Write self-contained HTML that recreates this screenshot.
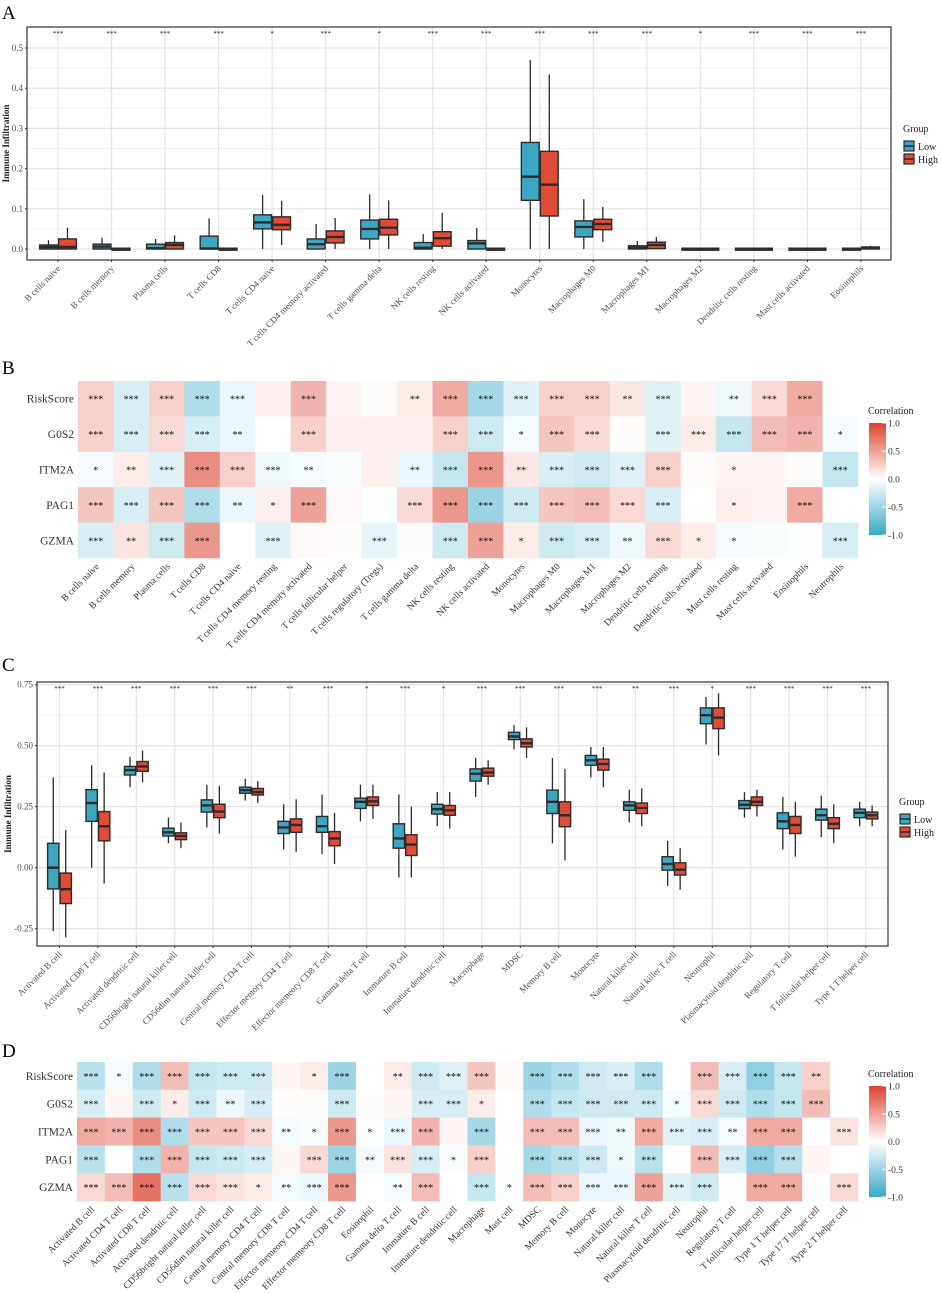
<!DOCTYPE html>
<html><head><meta charset="utf-8">
<style>
html,body{margin:0;padding:0;background:#fff;}
svg{display:block;font-family:"Liberation Serif",serif;}
</style></head>
<body>
<svg id="fig" width="941" height="1294" viewBox="0 0 941 1294" xmlns="http://www.w3.org/2000/svg">
<text x="2" y="19" font-size="19">A</text>
<text x="2" y="374" font-size="19">B</text>
<text x="2" y="671" font-size="19">C</text>
<text x="2" y="1057" font-size="19">D</text>
</svg>
<script>
// ---------- Panel A data ----------
const catsA = ["B cells naive","B cells memory","Plasma cells","T cells CD8","T cells CD4 naive","T cells CD4 memory activated","T cells gamma delta","NK cells resting","NK cells activated","Monocytes","Macrophages M0","Macrophages M1","Macrophages M2","Dendritic cells resting","Mast cells activated","Eosinophils"];
// [whiskerLow, q1, median, q3, whiskerHigh]
const lowA = [[0,0,0.005,0.01,0.022],[0,0,0.006,0.012,0.028],[0,0,0.002,0.012,0.025],[0,0,0.001,0.032,0.076],[0,0.05,0.066,0.085,0.135],[0,0,0.012,0.025,0.062],[0,0.025,0.05,0.072,0.136],[0,0,0.003,0.016,0.037],[0,0,0.014,0.021,0.052],[0,0.121,0.18,0.265,0.47],[0,0.03,0.055,0.07,0.124],[0,0,0.003,0.008,0.02],[0,0,0,0.002,0.002],[0,0,0,0.002,0.002],[0,0,0,0.002,0.002],[0,0,0,0.002,0.002]];
const highA = [[0,0,0.005,0.025,0.053],[0,0,0,0.002,0.002],[0,0,0.01,0.016,0.034],[0,0,0,0.002,0.002],[0.01,0.048,0.06,0.08,0.12],[0,0.015,0.03,0.045,0.077],[0,0.035,0.053,0.074,0.121],[0,0.007,0.027,0.043,0.09],[0,0,0,0.002,0.002],[0,0.082,0.16,0.243,0.434],[0.018,0.048,0.062,0.074,0.105],[0,0.001,0.01,0.017,0.03],[0,0,0,0.002,0.002],[0,0,0,0.002,0.002],[0,0,0,0.002,0.002],[0,0,0.002,0.005,0.008]];
const sigA = ["***","***","***","***","*","***","*","***","***","***","***","***","*","***","***","***"];
const ticksA = [0,0.1,0.2,0.3,0.4,0.5];
const tickLabelsA = ["0.0","0.1","0.2","0.3","0.4","0.5"];

// ---------- Panel C data ----------
const catsC = ["Activated B cell","Activated CD8 T cell","Activated dendritic cell","CD56bright natural killer cell","CD56dim natural killer cell","Central memory CD4 T cell","Effector memory CD4 T cell","Effector memeory CD8 T cell","Gamma delta T cell","Immature  B cell","Immature dendritic cell","Macrophage","MDSC","Memory B cell","Monocyte","Natural killer cell","Natural killer T cell","Neutrophil","Plasmacytoid dendritic cell","Regulatory T cell","T follicular helper cell","Type 1 T helper cell"];
const lowC = [[-0.26,-0.087,0,0.1,0.37],[0,0.19,0.265,0.32,0.42],[0.33,0.38,0.4,0.415,0.455],[0.1,0.13,0.145,0.162,0.205],[0.165,0.228,0.255,0.278,0.34],[0.275,0.305,0.318,0.33,0.365],[0.075,0.14,0.165,0.19,0.26],[0.055,0.145,0.17,0.21,0.3],[0.19,0.243,0.27,0.285,0.34],[-0.04,0.08,0.12,0.18,0.3],[0.17,0.22,0.24,0.26,0.31],[0.29,0.355,0.385,0.405,0.45],[0.485,0.525,0.538,0.555,0.585],[0.1,0.222,0.27,0.318,0.45],[0.37,0.42,0.44,0.46,0.495],[0.185,0.235,0.255,0.27,0.32],[-0.075,-0.01,0.015,0.045,0.11],[0.505,0.59,0.625,0.655,0.7],[0.205,0.242,0.258,0.275,0.31],[0.075,0.16,0.19,0.225,0.29],[0.125,0.195,0.215,0.24,0.295],[0.17,0.205,0.225,0.24,0.27]];
const highC = [[-0.285,-0.147,-0.088,-0.022,0.155],[-0.065,0.11,0.17,0.23,0.39],[0.35,0.395,0.415,0.435,0.48],[0.08,0.115,0.13,0.143,0.185],[0.14,0.205,0.23,0.26,0.335],[0.265,0.298,0.31,0.325,0.355],[0.065,0.145,0.175,0.2,0.28],[0.015,0.09,0.12,0.148,0.225],[0.2,0.255,0.272,0.29,0.34],[-0.04,0.05,0.095,0.135,0.25],[0.16,0.215,0.235,0.255,0.31],[0.34,0.375,0.39,0.408,0.44],[0.45,0.495,0.51,0.528,0.575],[0.03,0.168,0.215,0.27,0.405],[0.33,0.4,0.425,0.445,0.495],[0.17,0.222,0.245,0.265,0.325],[-0.09,-0.03,-0.008,0.02,0.08],[0.46,0.57,0.615,0.655,0.715],[0.21,0.255,0.27,0.29,0.32],[0.045,0.14,0.175,0.21,0.27],[0.1,0.16,0.18,0.205,0.26],[0.17,0.2,0.215,0.228,0.255]];
const sigC = ["***","***","***","***","***","***","**","***","*","***","*","***","***","***","***","**","***","*","***","***","***","***"];
const ticksC = [-0.25,0,0.25,0.5,0.75];
const tickLabelsC = ["-0.25","0.00","0.25","0.50","0.75"];

// ---------- Panel B data ----------
const rowsB = ["RiskScore","G0S2","ITM2A","PAG1","GZMA"];
const colsB = ["B cells naive","B cells memory","Plasma cells","T cells CD8","T cells CD4 naive","T cells CD4 memory resting","T cells CD4 memory activated","T cells follicular helper","T cells regulatory (Tregs)","T cells gamma delta","NK cells resting","NK cells activated","Monocytes","Macrophages M0","Macrophages M1","Macrophages M2","Dendritic cells resting","Dendritic cells activated","Mast cells resting","Mast cells activated","Eosinophils","Neutrophils"];
const valsB = [
 [0.25,-0.2,0.25,-0.4,-0.1,0.08,0.4,0.05,0.02,0.1,0.45,-0.45,-0.15,0.25,0.25,0.12,-0.15,0.05,-0.08,0.2,0.45,null],
 [0.25,-0.2,0.2,-0.2,-0.1,0,0.25,0.08,0.08,0.08,0.25,-0.25,-0.05,0.3,0.2,0.02,-0.15,0.1,-0.3,0.35,0.4,-0.05],
 [-0.05,0.1,-0.15,0.6,0.25,-0.08,-0.05,-0.03,0.08,-0.1,-0.3,0.55,0.12,-0.2,-0.25,-0.15,0.25,0.02,0.05,0.05,0.02,-0.3],
 [0.3,-0.2,0.3,-0.4,-0.1,0.08,0.5,0.04,-0.02,0.2,0.55,-0.5,-0.25,0.3,0.35,0.2,-0.2,0,0.08,0.05,0.45,null],
 [-0.2,0.15,-0.25,0.55,0,-0.15,0.03,0.02,-0.12,0.02,-0.25,0.5,0.1,-0.25,-0.2,-0.08,0.2,0.1,-0.05,-0.03,-0.02,-0.2]];
const starsB = [
 ["***","***","***","***","***","","***","","","**","***","***","***","***","***","**","***","","**","***","***",""],
 ["***","***","***","***","**","","***","","","","***","***","*","***","***","","***","***","***","***","***","*"],
 ["*","**","***","***","***","***","**","","","**","***","***","**","***","***","***","***","","*","","","***"],
 ["***","***","***","***","**","*","***","","","***","***","***","***","***","***","***","***","","*","","***",""],
 ["***","**","***","***","","***","","","***","","***","***","*","***","***","**","***","*","*","","","***"]];

// ---------- Panel D data ----------
const rowsD = ["RiskScore","G0S2","ITM2A","PAG1","GZMA"];
const colsD = ["Activated B cell","Activated CD4 T cell","Activated CD8 T cell","Activated dendritic cell","CD56bright natural killer cell","CD56dim natural killer cell","Central memory CD4 T cell","Central memory CD8 T cell","Effector memeory CD4 T cell","Effector memeory CD8 T cell","Eosinophil","Gamma delta T cell","Immature  B cell","Immature dendritic cell","Macrophage","Mast cell","MDSC","Memory B cell","Monocyte","Natural killer cell","Natural killer T cell","Plasmacytoid dendritic cell","Neutrophil","Regulatory T cell","T follicular helper cell","Type 1 T helper cell","Type 17 T helper cell","Type 2 T helper cell"];
const valsD = [
 [-0.35,-0.05,-0.4,0.35,-0.3,-0.25,-0.25,0.05,0.1,-0.5,0,0.1,-0.25,-0.15,0.3,0.03,-0.5,-0.4,-0.25,-0.2,-0.4,0,0.35,-0.2,-0.55,-0.3,0.25,0],
 [-0.2,0.05,-0.25,0.1,-0.25,-0.08,-0.2,0.02,0.02,-0.25,0.02,0.05,-0.2,-0.2,0.1,0,-0.4,-0.3,-0.25,-0.25,-0.25,-0.05,0.2,-0.25,-0.4,-0.3,0.35,0],
 [0.45,0.4,0.6,-0.4,0.3,0.3,0.2,-0.05,-0.03,0.55,-0.02,-0.1,0.4,0.05,-0.45,0,0.35,0.35,-0.1,-0.08,0.45,-0.15,-0.2,-0.05,0.45,0.45,0,0.15],
 [-0.35,0,-0.4,0.4,-0.3,-0.25,-0.2,0.05,0.2,-0.5,-0.05,0.15,-0.2,-0.03,0.25,0,-0.45,-0.35,-0.25,-0.08,-0.35,0,0.35,-0.2,-0.55,-0.35,0.05,0],
 [0.2,0.35,0.75,-0.35,0.2,0.15,0.1,-0.05,-0.1,0.55,0,-0.05,0.35,0,-0.3,-0.02,0.35,0.25,-0.1,-0.1,0.5,-0.15,-0.25,0,0.45,0.45,-0.02,0.2]];
const starsD = [
 ["***","*","***","***","***","***","***","","*","***","","**","***","***","***","","***","***","***","***","***","","***","***","***","***","**",""],
 ["***","","***","*","***","**","***","","","***","","","***","***","*","","***","***","***","***","***","*","***","***","***","***","***",""],
 ["***","***","***","***","***","***","***","**","*","***","*","***","***","","***","","***","***","***","**","***","***","***","**","***","***","","***"],
 ["***","","***","***","***","***","***","","***","***","**","***","***","*","***","","***","***","***","*","***","","***","***","***","***","",""],
 ["***","***","***","***","***","***","*","**","***","***","","**","***","","***","*","***","***","***","***","***","***","***","","***","***","","***"]];

const NS = "http://www.w3.org/2000/svg";
const svg = document.getElementById("fig");
function mk(tag, attrs, parent) {
  const e = document.createElementNS(NS, tag);
  for (const k in attrs) e.setAttribute(k, attrs[k]);
  (parent || svg).appendChild(e);
  return e;
}
const LOWC = "#3aa8c2", HIGHC = "#e14a33", DARK = "#2b2b2b";

function boxPanel(P, cats, low, high, sig, ticks, tickLabels, minor, prefix) {
  const g = mk("g", {});
  
  
  const y = v => P.y0 - v * P.k;
  const xc = i => P.x0 + i * P.step;
  // minor grid
  minor.forEach(v => {
    const l = mk("line", {x1: P.left, x2: P.right, y1: y(v), y2: y(v), stroke: "#f2f2f2", "stroke-width": 1}, g);
    
    
  });
  ticks.forEach((v, i) => {
    const l = mk("line", {x1: P.left, x2: P.right, y1: y(v), y2: y(v), stroke: "#e6e6e6", "stroke-width": 1.3}, g);
    
    
    const t = mk("text", {x: P.left - 4, y: y(v) + 3, "font-size": 9, "text-anchor": "end", fill: "#4d4d4d"}, g);
    t.textContent = tickLabels[i];
    
    
    const tk = mk("line", {x1: P.left - 2, x2: P.left, y1: y(v), y2: y(v), stroke: "#333"}, g);
    
    
  });
  cats.forEach((c, i) => {
    const vl = mk("line", {x1: xc(i), x2: xc(i), y1: P.top, y2: P.bottom, stroke: "#e6e6e6", "stroke-width": 1.3}, g);
    
    
  });
  const frame = mk("rect", {x: P.left, y: P.top, width: P.right - P.left, height: P.bottom - P.top, fill: "none", stroke: "#333", "stroke-width": 1.2}, g);
  
  
  function drawBox(s, cx, col, name) {
    const w = mk("line", {x1: cx, x2: cx, y1: y(s[0]), y2: y(s[4]), stroke: DARK, "stroke-width": 1.3}, g);
    
    
    const hgt = Math.max(y(s[1]) - y(s[3]), 2);
    const r = mk("rect", {x: cx - P.bw / 2 + 0.6, y: y(s[3]), width: P.bw - 1.2, height: hgt, fill: col, stroke: DARK, "stroke-width": 1.4}, g);
    
    
    const m = mk("line", {x1: cx - P.bw / 2 + 0.6, x2: cx + P.bw / 2 - 0.6, y1: y(s[2]), y2: y(s[2]), stroke: DARK, "stroke-width": 2.4}, g);
    
    
  }
  cats.forEach((c, i) => {
    drawBox(low[i], xc(i) - P.bw / 2, LOWC, "low");
    drawBox(high[i], xc(i) + P.bw / 2, HIGHC, "high");
    const s = mk("text", {x: xc(i), y: P.sigY, "font-size": 7, "text-anchor": "middle", fill: "#222"}, g);
    s.textContent = sig[i];
    
    
    const tk = mk("line", {x1: xc(i), x2: xc(i), y1: P.bottom, y2: P.bottom + 2, stroke: "#333"}, g);
    
    
    const t = mk("text", {x: xc(i) + 3, y: P.bottom + 9, "font-size": 9, "text-anchor": "end", fill: "#4d4d4d", transform: `rotate(-45 ${xc(i) + 3} ${P.bottom + 9})`}, g);
    t.textContent = c;
    
    
  });
  const yl = mk("text", {x: 0, y: 0, "font-size": 9, "font-weight": "bold", "text-anchor": "middle", fill: "#222", transform: `translate(${P.ylx} ${(P.top + P.bottom) / 2}) rotate(-90)`}, g);
  yl.textContent = "Immune Infiltration";
  
  
  // legend
  const lt = mk("text", {x: P.legX, y: P.legY, "font-size": 10, fill: "#222"}, g);
  lt.textContent = "Group";
  
  
  [["Low", LOWC], ["High", HIGHC]].forEach((d, j) => {
    const yy = P.legY + 9 + j * 13;
    const r = mk("rect", {x: P.legX + 1, y: yy, width: 10, height: 10, fill: d[1], stroke: DARK, "stroke-width": 1.2}, g);
    
    
    const ml = mk("line", {x1: P.legX + 1, x2: P.legX + 11, y1: yy + 5, y2: yy + 5, stroke: DARK, "stroke-width": 1.5}, g);
    
    
    const tx = mk("text", {x: P.legX + 15, y: yy + 9, "font-size": 10, fill: "#222"}, g);
    tx.textContent = d[0];
    
    
  });
}

boxPanel({left: 27, right: 891, top: 27, bottom: 260, y0: 249, k: 402, x0: 58, step: 53.53, bw: 19, sigY: 36, ylx: 9, legX: 903, legY: 132},
  catsA, lowA, highA, sigA, ticksA, tickLabelsA, [0.05, 0.15, 0.25, 0.35, 0.45], "panel-a");
boxPanel({left: 37, right: 888, top: 682, bottom: 946, y0: 867.7, k: 244, x0: 59.5, step: 38.4, bw: 12.5, sigY: 691, ylx: 11, legX: 899, legY: 805},
  catsC, lowC, highC, sigC, ticksC, tickLabelsC, [-0.125, 0.125, 0.375, 0.625], "panel-c");

function corrColor(v) {
  if (v === null) return "#ffffff";
  const t = Math.min(1, Math.abs(v));
  const c = v >= 0 ? [221, 66, 46] : [55, 170, 200];
  const mix = c.map(ch => Math.round(255 + (ch - 255) * t));
  return `rgb(${mix[0]},${mix[1]},${mix[2]})`;
}

function heatPanel(H, rows, cols, vals, stars, prefix) {
  const g = mk("g", {});
  
  
  const cw = (H.right - H.left) / cols.length, ch = (H.bottom - H.top) / rows.length;
  rows.forEach((rn, r) => {
    cols.forEach((cn, c) => {
      const v = vals[r][c];
      const cell = mk("rect", {x: H.left + c * cw, y: H.top + r * ch, width: cw + 0.3, height: ch + 0.3, fill: corrColor(v)}, g);
      
      
      if (stars[r][c]) {
        const s = mk("text", {x: H.left + (c + 0.5) * cw, y: H.top + (r + 0.5) * ch + 4, "font-size": 10, "text-anchor": "middle", fill: "#111"}, g);
        s.textContent = stars[r][c];
        
        
      }
    });
    const rl = mk("text", {x: H.left - 4, y: H.top + (r + 0.5) * ch + 4, "font-size": 11.5, "text-anchor": "end", fill: "#333"}, g);
    rl.textContent = rn;
    
    
  });
  cols.forEach((cn, c) => {
    const cx = H.left + (c + 0.5) * cw + 4, cy = H.bottom + 9;
    const t = mk("text", {x: cx, y: cy, "font-size": 9.5, "text-anchor": "end", fill: "#333", transform: `rotate(-45 ${cx} ${cy})`}, g);
    t.textContent = cn;
    
    
  });
  // colorbar
  const defs = mk("defs", {}, g);
  const grad = mk("linearGradient", {id: prefix + "-grad", x1: 0, y1: 0, x2: 0, y2: 1}, defs);
  [1, 0.5, 0, -0.5, -1].forEach((v, i) => {
    mk("stop", {offset: (i * 25) + "%", "stop-color": corrColor(v)}, grad);
  });
  const ct = mk("text", {x: H.cbX - 1, y: H.cbTop - 9, "font-size": 10, fill: "#222"}, g);
  ct.textContent = "Correlation";
  
  
  const cb = mk("rect", {x: H.cbX, y: H.cbTop, width: 17, height: H.cbBot - H.cbTop, fill: `url(#${prefix}-grad)`}, g);
  
  
  ["1.0", "0.5", "0.0", "-0.5", "-1.0"].forEach((lab, i) => {
    const yy = H.cbTop + i * (H.cbBot - H.cbTop) / 4;
    const tk = mk("line", {x1: H.cbX + 13, x2: H.cbX + 17, y1: yy, y2: yy, stroke: "#fff"}, g);
    
    
    const t = mk("text", {x: H.cbX + 19, y: yy + 3.5, "font-size": 9.5, fill: "#333"}, g);
    t.textContent = lab;
    
    
  });
}

heatPanel({left: 78, right: 858, top: 381, bottom: 558, cbX: 869, cbTop: 423, cbBot: 535}, rowsB, colsB, valsB, starsB, "panel-b");
heatPanel({left: 77, right: 858, top: 1062, bottom: 1201, cbX: 869, cbTop: 1086, cbBot: 1197}, rowsD, colsD, valsD, starsD, "panel-d");
</script>
</body></html>
